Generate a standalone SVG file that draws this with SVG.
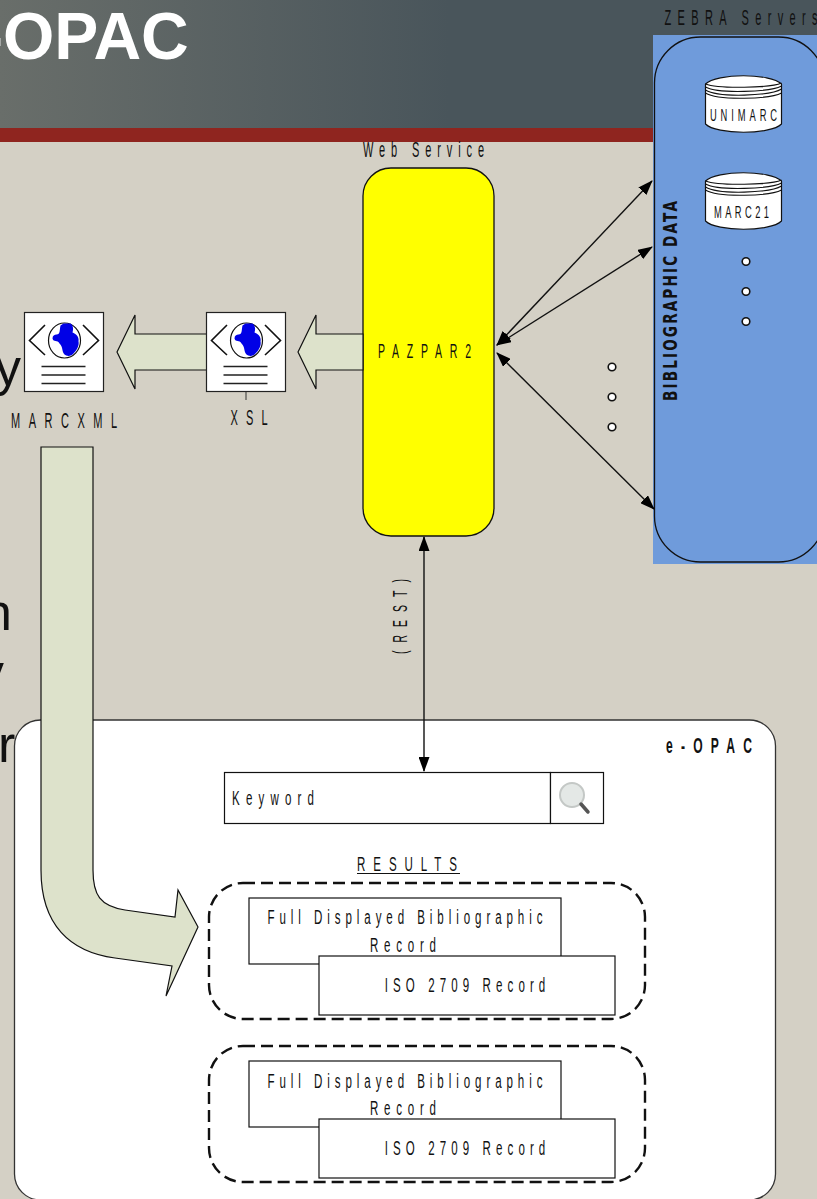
<svg xmlns="http://www.w3.org/2000/svg" width="817" height="1199" viewBox="0 0 817 1199">
<style>
text{font-family:"Liberation Sans",Arial,sans-serif;fill:#111;text-anchor:middle;font-size:21px}
.s{stroke:#111;stroke-width:1.2;fill:#fff}
.dot{stroke:#111;stroke-width:1.6;fill:#fff}
.ar{fill:#dde2cb;stroke:#111;stroke-width:1.2}
.bg{font-size:52px;fill:#111;text-anchor:start}
.d{fill:none;stroke:#111;stroke-width:2.4;stroke-dasharray:12 6}
.c{stroke:#111;stroke-width:1.4;fill:none;marker-start:url(#h);marker-end:url(#h)}
</style>
<defs>
<linearGradient id="hd" x1="0" x2="1" y1="0" y2="0"><stop offset="0" stop-color="#696e6a"/><stop offset="0.55" stop-color="#49555b"/><stop offset="1" stop-color="#49555b"/></linearGradient>
<marker id="h" viewBox="0 0 15 11" refX="14" refY="5.500" markerWidth="15" markerHeight="11" markerUnits="userSpaceOnUse" orient="auto-start-reverse"><path d="M0 0L15 5.500L0 11z" fill="#000"/></marker>
<g id="doc">
<rect x="0" y="0" width="79" height="79" fill="#fff" stroke="#222" stroke-width="1.2"/>
<path d="M20.500 12.500L5 28L20.500 42.500M58.500 12.500L74 28L58.500 42.500" fill="none" stroke="#111" stroke-width="1.6"/>
<ellipse cx="40" cy="28" rx="16" ry="17.500" fill="#fff" stroke="#111" stroke-width="1.2"/>
<path d="M36 13L39 11L46 11C49 13 49 17 48 20C51 21 55 24 54 29C55 33 52 38 49 41C47 44 42 44 40 42C37 39 39 35 35 31C33 27 29 30 28 26C28 23 30 22 32 22C36 22 35 17 36 13Z" fill="#0000e6"/>
<path d="M17 54H61M17 62.500H61M17 71H61" stroke="#222" stroke-width="1.4"/>
</g>
<g id="cyl">
<path d="M1 9C12 -2 66 -2 77 9V49C66 60 12 60 1 49Z" fill="#fff" stroke="#111" stroke-width="1.2"/>
<path d="M1 9C14 14 66 13 77 8M1 12C14 19 66 17 77 11M1 15C14 23 66 21 77 14M1 18C14 26 66 24 77 18" fill="none" stroke="#111" stroke-width="1.1"/>
</g>
</defs>
<rect width="817" height="1199" fill="#d4d0c5"/>
<rect width="817" height="128" fill="url(#hd)"/>
<rect y="128" width="817" height="14" fill="#8f251f"/>
<text x="-19" y="59" font-weight="700" style="font-size:66px;fill:#fff;text-anchor:start">-OPAC</text>
<text class="bg" x="-5" y="385">y</text>
<text class="bg" x="-17" y="630">n</text>
<text class="bg" x="-22" y="690">v</text>
<text class="bg" x="-2" y="762">r</text>
<g id="eopac-panel"><rect x="14.500" y="720" width="761" height="480" rx="26" fill="#fff" stroke="#333" stroke-width="1.3"/>
<text transform="translate(709 753) scale(.55 1)" font-weight="700" style="font-size:22px" textLength="156" lengthAdjust="spacing">e-OPAC</text></g>
<g id="zebra">
<rect x="653" y="35" width="164" height="529" fill="#6f9bdb"/>
<rect x="654.500" y="37" width="170" height="525" rx="46" fill="#6f9bdb" stroke="#111" stroke-width="1.3"/>
<text transform="translate(741 25) scale(.5 1)" style="font-size:22px" textLength="306" lengthAdjust="spacing">ZEBRA Servers</text>
<text transform="translate(677 301) rotate(-90) scale(.68 1)" font-weight="700" style="font-size:20px;font-family:'DejaVu Sans',sans-serif" textLength="294" lengthAdjust="spacing">BIBLIOGRAPHIC DATA</text>
<use href="#cyl" x="704.500" y="75"/><use href="#cyl" x="704.500" y="172"/>
<text transform="translate(743.500 121) scale(.55 1)" style="font-size:17px" textLength="122" lengthAdjust="spacing">UNIMARC</text>
<text transform="translate(741.500 218) scale(.55 1)" style="font-size:17px" textLength="100" lengthAdjust="spacing">MARC21</text>
<circle class="dot" cx="746" cy="261.500" r="3.800"/><circle class="dot" cx="746" cy="291.500" r="3.800"/><circle class="dot" cx="746" cy="321.500" r="3.800"/>
</g>
<g id="connectors">
<line class="c" x1="497" y1="345" x2="652" y2="181"/>
<line class="c" x1="497" y1="345" x2="652" y2="247"/>
<line class="c" x1="497" y1="353" x2="654" y2="509"/>
<line class="c" x1="424" y1="537" x2="424" y2="771"/>
<path d="M246 392V400" stroke="#333" stroke-width="1"/>
</g>
<g id="pazpar2"><rect x="363" y="168" width="131" height="368" rx="28" fill="#ff0" stroke="#111" stroke-width="1.3"/>
<text transform="translate(424.500 358) scale(.5 1)" textLength="186" lengthAdjust="spacing">PAZPAR2</text>
<text transform="translate(423.500 157) scale(.5 1)" style="font-size:22px" textLength="242" lengthAdjust="spacing">Web Service</text></g>
<circle class="dot" cx="612" cy="367" r="3.800"/><circle class="dot" cx="612" cy="397" r="3.800"/><circle class="dot" cx="612" cy="427" r="3.800"/>
<path class="ar" d="M363 334H316V315L298 352L316 389V370H363Z"/>
<path class="ar" d="M207 334H135V315L117 352L135 389V370H207Z"/>
<g id="xsl"><use href="#doc" x="206.500" y="312.500"/><text transform="translate(249 425) scale(.5 1)" style="font-size:22px" textLength="74" lengthAdjust="spacing">XSL</text></g>
<g id="marcxml"><use href="#doc" x="24.500" y="312.500"/><text transform="translate(64 428) scale(.5 1)" style="font-size:22px" textLength="212" lengthAdjust="spacing">MARCXML</text></g>
<text transform="translate(407 616.500) rotate(-90) scale(.5 1)" textLength="150" lengthAdjust="spacing">(REST)</text>
<g id="search"><rect x="224.500" y="772.500" width="326" height="51" fill="#fff" stroke="#111" stroke-width="1.2"/><rect x="550.500" y="772.500" width="53" height="51" fill="#fff" stroke="#111" stroke-width="1.2"/>
<text transform="translate(273 805) scale(.55 1)" textLength="149" lengthAdjust="spacing">Keyword</text>
<circle cx="572" cy="795" r="12" fill="#e4e8e6" stroke="#c4c8c6" stroke-width="2"/><path d="M581 804L588 812" stroke="#555" stroke-width="3.500" stroke-linecap="round"/></g>
<g id="marc-arrow"><path class="ar" d="M41 447H93V870C93 895 100 906 125 910L175 917L178 890L198 927L166 996L172 966L115 958C70 952 41 925 41 870Z"/></g>
<g id="results">
<text transform="translate(407 871) scale(.55 1)" textLength="182" lengthAdjust="spacing">RESULTS</text>
<path d="M357 873.500H460" stroke="#111" stroke-width="1.2"/>
<rect class="d" x="209" y="883" width="436" height="136" rx="34"/>
<rect class="s" x="249" y="898" width="312" height="66"/>
<text transform="translate(405 924) scale(.55 1)" textLength="500" lengthAdjust="spacing">Full Displayed Bibliographic</text>
<text transform="translate(403 952) scale(.55 1)" textLength="120" lengthAdjust="spacing">Record</text>
<rect class="s" x="319" y="956" width="296" height="59"/>
<text transform="translate(465 992) scale(.55 1)" textLength="292" lengthAdjust="spacing">ISO 2709 Record</text>
<rect class="d" x="209" y="1046" width="436" height="136" rx="34"/>
<rect class="s" x="249" y="1061" width="312" height="66"/>
<text transform="translate(405 1088) scale(.55 1)" textLength="500" lengthAdjust="spacing">Full Displayed Bibliographic</text>
<text transform="translate(403 1115) scale(.55 1)" textLength="120" lengthAdjust="spacing">Record</text>
<rect class="s" x="319" y="1119" width="296" height="59"/>
<text transform="translate(465 1155) scale(.55 1)" textLength="292" lengthAdjust="spacing">ISO 2709 Record</text>
</g>
</svg>
